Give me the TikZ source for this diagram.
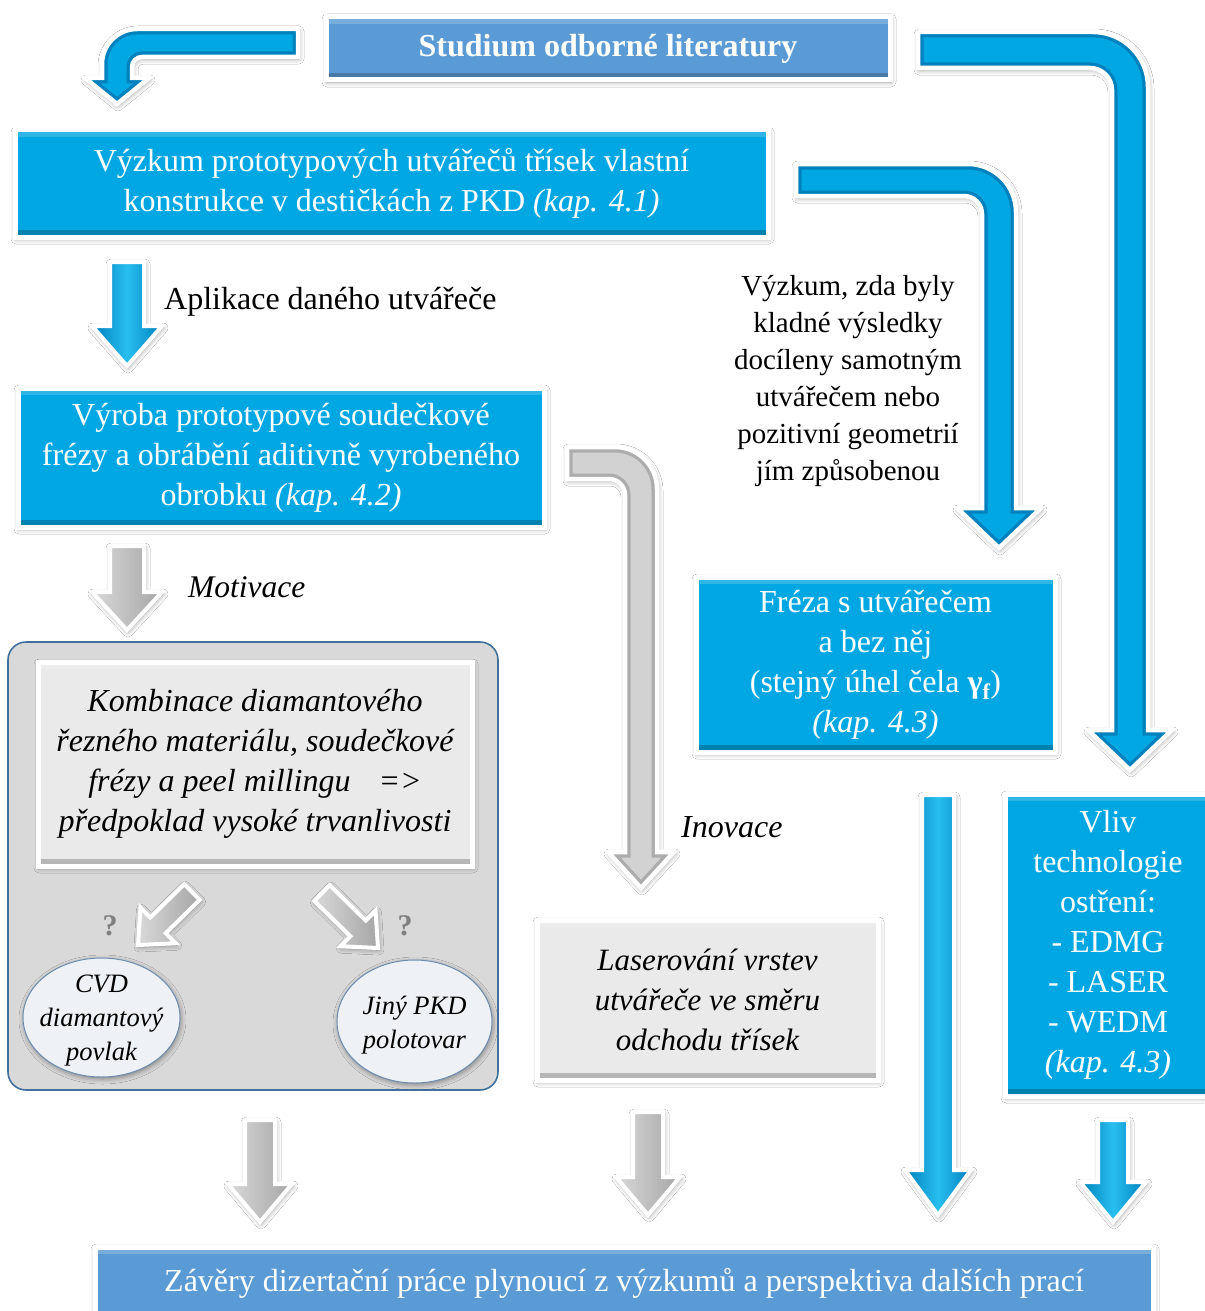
\documentclass[tikz,border=0pt]{standalone}
\usepackage{fontspec}
\setmainfont{Liberation Serif}
\usetikzlibrary{calc,shadows,shadows.blur,shapes.geometric}
\definecolor{cyanb}{RGB}{0,167,226}
\definecolor{cyand}{RGB}{0,128,188}
\definecolor{cyanl}{RGB}{40,190,240}
\definecolor{steel}{RGB}{91,155,213}
\definecolor{graybox}{RGB}{234,234,234}
\definecolor{contfill}{RGB}{217,217,217}
\definecolor{contline}{RGB}{65,113,156}
\definecolor{ellfill}{RGB}{238,242,247}
\definecolor{ellline}{RGB}{110,140,175}
\definecolor{qgray}{RGB}{128,128,128}
\newcommand\fsz[2]{\fontsize{#1}{#2}\selectfont}
\newcommand\StraightArrow[6]{%
  \coordinate (hb) at ($(#2)!#5!(#1)$);
  \path[#6] ($(#1)!#3/2!90:(#2)$) -- ($(hb)!#3/2!90:(#2)$) -- ($(hb)!#4/2!90:(#2)$) -- (#2)
    -- ($(hb)!#4/2!-90:(#2)$) -- ($(hb)!#3/2!-90:(#2)$) -- ($(#1)!#3/2!-90:(#2)$) -- cycle;
}
\newcommand\BentArrow[3]{%
  \path[softshadow, fill=#2] #1;
  \begin{scope}\clip #1; \draw[#3, line width=11pt] #1; \end{scope}
  \draw[white, line width=4.5pt] #1;
}
\tikzset{
  softshadow/.style={blur shadow={shadow xshift=1pt, shadow yshift=-2pt, shadow blur radius=5pt, shadow opacity=40}},
  bevel/.style={path picture={
     \fill[black,opacity=.22] (path picture bounding box.south west) rectangle ([yshift=7pt]path picture bounding box.south east);
     \fill[white,opacity=.18] (path picture bounding box.north west) rectangle ([yshift=-7pt]path picture bounding box.north east);
  }},
  box/.style={draw=white, line width=5pt, softshadow, inner sep=0pt, align=center, bevel},
  bluebox/.style={box, fill=cyanb, text=white, font=\fsz{32}{40}},
  steelbox/.style={box, fill=steel, text=white, font=\fsz{32}{40}},
  graybx/.style={box, fill=graybox, text=black, font=\fsz{32}{40}\itshape},
  ell/.style={ellipse, draw=ellline, line width=1pt, fill=ellfill, inner sep=0pt, softshadow},
  elltext/.style={inner sep=0pt, align=center, font=\fsz{26.5}{34}\itshape},
  blueA/.style={draw=white, line width=4pt, left color=cyand, right color=cyand, middle color=cyanl, softshadow},
  grayA/.style={draw=white, line width=4pt, left color=gray!30, right color=gray!70, softshadow},
  lbl/.style={font=\fsz{32}{37}, text=black, inner sep=0pt},
}
\begin{document}
\begin{tikzpicture}[x=1pt,y=-1pt]
\useasboundingbox (0,0) rectangle (1204,1311);
\fill[white] (0,0) rectangle (1204,1311);

% container
\node[draw=contline, line width=1.6pt, fill=contfill, rounded corners=18pt, minimum width=490pt, minimum height=448pt, inner sep=0pt] (cont) at (253,866) {};

% boxes
\node[steelbox, minimum width=564pt, minimum height=63pt] (stud) at (608,48.5) {\bfseries Studium odborné literatury};
\node[bluebox, minimum width=753pt, minimum height=107pt] (vyzk) at (391.5,183.5) {Výzkum prototypových utvářečů třísek vlastní\\konstrukce v destičkách z PKD \textit{(kap. 4.1)}};
\node[bluebox, minimum width=526pt, minimum height=139pt] (vyr) at (281,457.5) {Výroba prototypové soudečkové\\frézy a obrábění aditivně vyrobeného\\obrobku \textit{(kap. 4.2)}};
\node[graybx, minimum width=434pt, minimum height=204pt] (komb) at (255,764) {Kombinace diamantového\\řezného materiálu, soudečkové\\frézy a peel millingu\hspace{28pt}=>\\předpoklad vysoké trvanlivosti};
\node[ell, minimum width=157pt, minimum height=119pt] (cvd) at (101.5,1017.5) {};
\node[elltext] (cvdt) at (101.5,1021) {CVD\\diamantový\\povlak};
\node[ell, minimum width=155pt, minimum height=123pt] (jiny) at (414.5,1021.5) {};
\node[elltext] (jinyt) at (414.5,1025) {Jiný PKD\\polotovar};
\node[bluebox, minimum width=359pt, minimum height=175pt] (frez) at (875.5,664.5) {Fréza s utvářečem\\a bez něj\\(stejný úhel čela \textbf{γ\textsubscript{f}})\\\textit{(kap. 4.3)}};
\node[bluebox, minimum width=206pt, minimum height=302pt] (vliv) at (1108,945) {Vliv\\technologie\\ostření:\\- EDMG\\- LASER\\- WEDM\\\textit{(kap. 4.3)}};
\node[graybx, minimum width=341pt, minimum height=160pt, font=\fsz{31}{40}\itshape] (laser) at (707.5,1000) {Laserování vrstev\\utvářeče ve směru\\odchodu třísek};
\node[steelbox, minimum width=1058pt, minimum height=72pt] (zav) at (624,1283) {Závěry dizertační práce plynoucí z výzkumů a perspektiva dalších prací};

% bent arrows
\BentArrow{(298,29) -- (137,29) .. controls (117.7,29) and (102,44.7) .. (102,64) -- (102,78) -- (85,78) -- (117,104) -- (149,78) -- (132,78) -- (132,67) .. controls (132,61.5) and (136.5,57) .. (142,57) -- (298,57) -- cycle}{cyanb}{cyand}
\BentArrow{(918,32) -- (1093,32) .. controls (1123.4,32) and (1148,56.6) .. (1148,87) -- (1148,730) -- (1172,730) -- (1130,770) -- (1088,730) -- (1112,730) -- (1112,90) .. controls (1112,77.9) and (1102.1,68) .. (1090,68) -- (918,68) -- cycle}{cyanb}{cyand}
\BentArrow{(796,164) -- (968,164) .. controls (994.5,164) and (1016,185.5) .. (1016,212) -- (1016,508) -- (1041,508) -- (999,548) -- (957,508) -- (982,508) -- (982,214) .. controls (982,204.1) and (973.9,196) .. (964,196) -- (796,196) -- cycle}{cyanb}{cyand}
\BentArrow{(567,447) -- (615,447) .. controls (638.2,447) and (657,465.8) .. (657,489) -- (657,852) -- (674,852) -- (641,888) -- (608,852) -- (625,852) -- (625,495) .. controls (625,486.2) and (617.8,479) .. (609,479) -- (567,479) -- cycle}{gray!35}{gray!65}

% straight arrows
\coordinate (a1t) at (127,262); \coordinate (a1h) at (127,366);
\StraightArrow{a1t}{a1h}{34pt}{70pt}{40pt}{blueA}
\coordinate (a2t) at (127,546); \coordinate (a2h) at (127,630);
\StraightArrow{a2t}{a2h}{34pt}{70pt}{38pt}{grayA}
\coordinate (a3t) at (192,892); \coordinate (a3h) at (138,945);
\StraightArrow{a3t}{a3h}{22pt}{50pt}{28pt}{grayA}
\coordinate (a4t) at (322,893); \coordinate (a4h) at (378,948);
\StraightArrow{a4t}{a4h}{22pt}{50pt}{28pt}{grayA}
\coordinate (a5t) at (260,1120); \coordinate (a5h) at (260,1222);
\StraightArrow{a5t}{a5h}{30pt}{64pt}{38pt}{grayA}
\coordinate (a6t) at (648,1112); \coordinate (a6h) at (648,1215);
\StraightArrow{a6t}{a6h}{30pt}{64pt}{38pt}{grayA}
\coordinate (a7t) at (938,795); \coordinate (a7h) at (938,1215);
\StraightArrow{a7t}{a7h}{32pt}{66pt}{45pt}{blueA}
\coordinate (a8t) at (1113,1120); \coordinate (a8h) at (1113,1222);
\StraightArrow{a8t}{a8h}{30pt}{66pt}{40pt}{blueA}

% labels
\node[lbl, anchor=west] (apl) at (164,302) {Aplikace daného utvářeče};
\node[lbl, anchor=west, font=\fsz{31.5}{37}\itshape] (mot) at (188,587) {Motivace};
\node[lbl, anchor=west, font=\fsz{32}{37}\itshape] (ino) at (681,827) {Inovace};
\node[lbl, align=center, font=\fsz{29}{37}] (vyzd) at (848,381) {Výzkum, zda byly\\kladné výsledky\\docíleny samotným\\utvářečem nebo\\pozitivní geometrií\\jím způsobenou};
\node[text=qgray, font=\bfseries\fsz{30}{34}] (q1) at (110,926) {?};
\node[text=qgray, font=\bfseries\fsz{30}{34}] (q2) at (405,926) {?};
\end{tikzpicture}
\end{document}
